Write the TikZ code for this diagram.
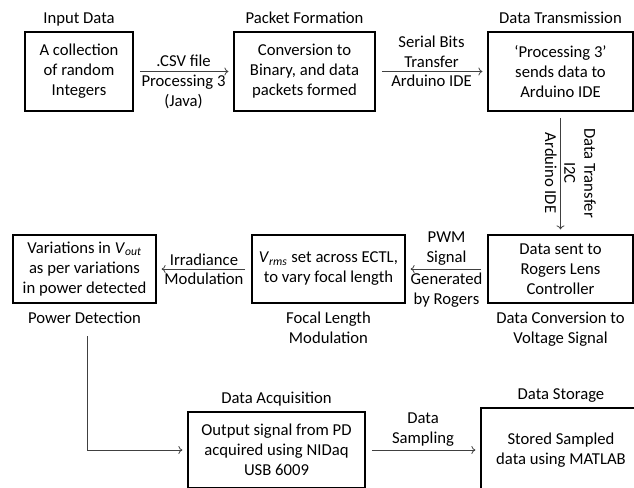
\documentclass[tikz,border=0pt]{standalone}
\usepackage{fontspec}
\setmainfont{Carlito}
\usetikzlibrary{positioning, arrows.meta}
\tikzset{
    block/.style={draw, line width=1.4pt, align=center, inner sep=1pt},
    title/.style={anchor=base},
    caption/.style={anchor=north, align=center, inner sep=0pt},
    tag/.style={align=center, inner sep=2.5pt},
    flow/.style={->, >={To[length=3pt,width=6pt]}, draw=black!75, line width=0.6pt, shorten <=4.5pt, shorten >=3.5pt}
}

\begin{document}
\begin{tikzpicture}[x=0.75pt, y=-0.75pt, font=\fontsize{12.5}{15}\selectfont]
        \useasboundingbox (0,0) rectangle (634,487);
        \clip (0,0) rectangle (634,487);
        %Blocks
        \node[block, minimum width=81pt, minimum height=59.25pt] (inp) at (79,71.5) {A collection\\of random\\Integers};
        \node[block, minimum width=105.75pt, minimum height=59.25pt] (pkt) at (304.5,71.5) {Conversion to\\Binary, and data\\packets formed};
        \node[block, minimum width=108.75pt, minimum height=59.25pt] (tx) at (560.5,71.5) {`Processing 3'\\sends data to\\Arduino IDE};
        \node[block, minimum width=108.75pt, minimum height=51pt] (ctl) at (560.5,269) {Data sent to\\Rogers Lens\\Controller};
        \node[block, minimum width=114.75pt, minimum height=51pt] (fl) at (328.5,269) {\textit{V}\textsubscript{\textit{rms}} set across ECTL,\\to vary focal length};
        \node[block, minimum width=107.25pt, minimum height=51pt] (pd) at (84.5,269) {Variations in \textit{V}\textsubscript{\textit{out}}\\as per variations\\in power detected};
        \node[block, minimum width=132.75pt, minimum height=57pt] (acq) at (276.5,450) {Output signal from PD\\acquired using NIDaq\\USB 6009};
        \node[block, minimum width=120pt, minimum height=63pt] (sto) at (561,450) {Stored Sampled\\data using MATLAB};
        %Titles and captions
        \node[title] (t-inp) at ([yshift=6pt]inp.north) {Input Data};
        \node[title] (t-pkt) at ([yshift=6pt]pkt.north) {Packet Formation};
        \node[title] (t-tx) at ([yshift=6pt]tx.north) {Data Transmission};
        \node[title] (t-acq) at ([yshift=6pt]acq.north) {Data Acquisition};
        \node[title] (t-sto) at ([yshift=6pt]sto.north) {Data Storage};
        \node[caption] (c-ctl) at ([yshift=-6pt]ctl.south) {Data Conversion to\\Voltage Signal};
        \node[caption] (c-fl) at ([yshift=-6pt]fl.south) {Focal Length\\Modulation};
        \node[caption] (c-pd) at ([yshift=-6pt]pd.south) {Power Detection};
        %Connectors
        \draw[flow] (inp) -- node[tag, above, inner sep=3.5pt] {.CSV file} node[tag, below] {Processing 3\\(Java)} (pkt);
        \draw[flow] (pkt) -- node[tag, above] {Serial Bits\\Transfer} node[tag, below] {Arduino IDE} (tx);
        \draw[flow] (tx) -- node[tag, rotate=-90, anchor=south] {Data Transfer\\I2C} node[tag, rotate=-90, anchor=north] {Arduino IDE} (ctl);
        \draw[flow] (ctl) -- node[tag, above] {PWM\\Signal} node[tag, below] {Generated\\by Rogers} (fl);
        \draw[flow] (fl) -- node[tag, above] {Irradiance} node[tag, below] {Modulation} (pd);
        \draw[flow, shorten <=9pt] ([xshift=2.5pt]c-pd.south) |- (acq.west);
        \draw[flow] (acq) -- node[tag, above] {Data\\Sampling} (sto);
\end{tikzpicture}
\end{document}
